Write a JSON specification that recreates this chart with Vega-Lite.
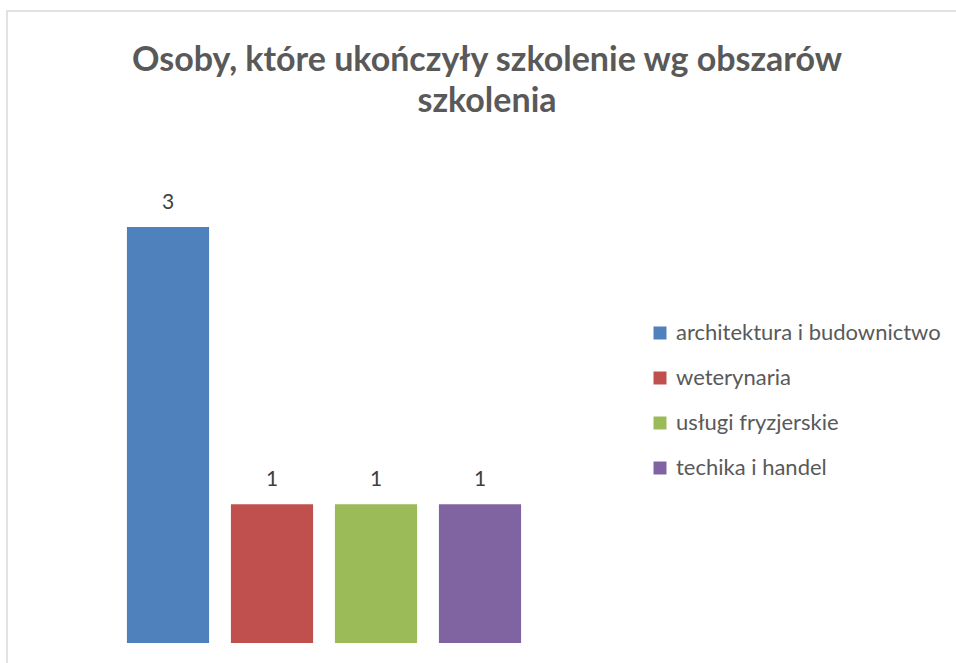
{
  "$schema": "https://vega.github.io/schema/vega-lite/v6.json",
  "autosize": {"type": "none"},
  "padding": {"left": 7, "top": 11, "right": 0, "bottom": 0},
  "width": 960,
  "height": 700,
  "background": "white",
  "title": {
    "text": ["Osoby, które ukończyły szkolenie wg obszarów", "szkolenia"],
    "orient": "top",
    "anchor": "middle",
    "baseline": "top",
    "offset": -108,
    "font": "Lato",
    "fontSize": 34,
    "fontWeight": "bold",
    "color": "#595959",
    "lineHeight": 41
  },
  "config": {
    "view": {"stroke": "#d9d9d9", "strokeWidth": 1.5},
    "font": "Lato"
  },
  "data": {
    "values": [
      {"obszar": "architektura i budownictwo", "osoby": 3},
      {"obszar": "weterynaria", "osoby": 1},
      {"obszar": "usługi fryzjerskie", "osoby": 1},
      {"obszar": "techika i handel", "osoby": 1}
    ]
  },
  "encoding": {
    "x": {
      "field": "obszar",
      "type": "nominal",
      "sort": null,
      "axis": null,
      "scale": {"range": [109, 525], "paddingInner": 0.21, "paddingOuter": 0.105}
    },
    "y": {
      "field": "osoby",
      "type": "quantitative",
      "axis": null,
      "scale": {"domain": [0, 3], "range": [632, 216], "nice": false}
    }
  },
  "layer": [
    {
      "mark": {"type": "bar"},
      "encoding": {
        "color": {
          "field": "obszar",
          "type": "nominal",
          "sort": null,
          "scale": {
            "domain": ["architektura i budownictwo", "weterynaria", "usługi fryzjerskie", "techika i handel"],
            "range": ["#4F81BD", "#C0504D", "#9BBB59", "#8064A2"]
          },
          "legend": {
            "orient": "none",
            "legendX": 642,
            "legendY": 311,
            "title": null,
            "symbolType": "square",
            "symbolSize": 169,
            "symbolStrokeWidth": 0,
            "labelFont": "Lato",
            "labelFontSize": 22,
            "labelColor": "#595959",
            "labelOffset": 5,
            "rowPadding": 23,
            "labelLimit": 400
          }
        }
      }
    },
    {
      "mark": {"type": "text", "baseline": "alphabetic", "dy": -18, "font": "Lato", "fontSize": 21, "color": "#404040"},
      "encoding": {"text": {"field": "osoby", "type": "quantitative"}}
    }
  ]
}
